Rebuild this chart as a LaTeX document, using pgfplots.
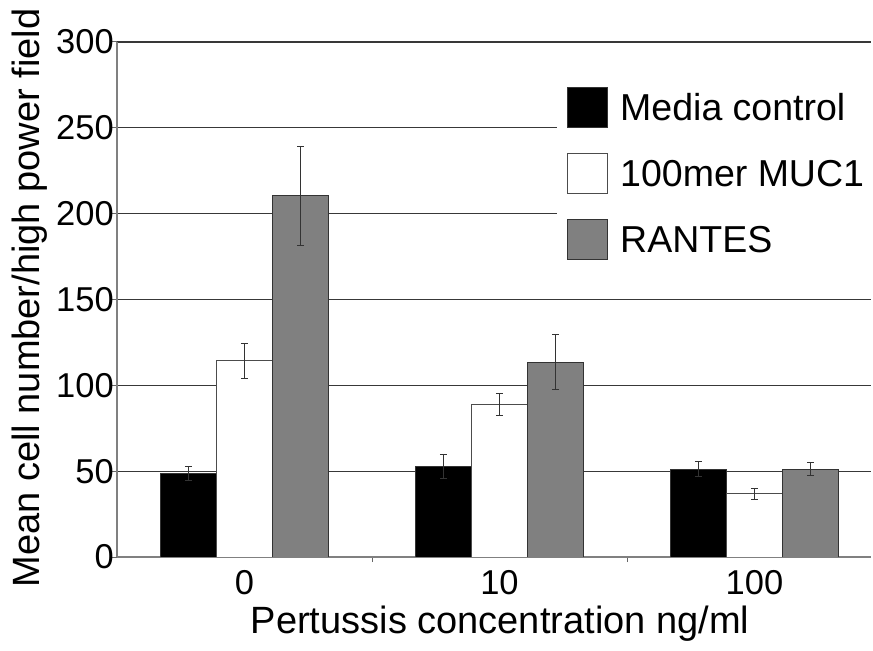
\documentclass[border=0pt]{standalone}
\usepackage{fontspec}
\setmainfont{Liberation Sans}
\usepackage{pgfplots}
\pgfplotsset{compat=1.18}
\definecolor{barGray}{gray}{0.5}
\begin{document}
\begin{tikzpicture}
\useasboundingbox (0,0) rectangle (873bp,651bp);
\begin{axis}[
  at={(117bp,94bp)}, anchor=south west,
  scale only axis, width=754bp, height=515bp,
  ybar=0pt, bar width=0.22,
  xmin=-0.5, xmax=2.457, ymin=0, ymax=300,
  axis x line=bottom, axis y line=left,
  axis line style={-, draw=black!50, line width=1.2bp},
  xtick={0,1,2}, xticklabels={0,10,100},
  minor xtick={0.5,1.5,2.5},
  major x tick style={draw=none},
  minor x tick style={draw=black!60, line width=0.8bp},
  minor tick length=5bp,
  ytick={0,50,...,300},
  y tick style={draw=black!60, line width=1bp},
  major tick length=5bp,
  tick align=outside,
  ymajorgrids, major grid style={draw=black!78, line width=1.2bp},
  /pgf/number format/assume math mode=true,
  ticklabel style={font=\fontsize{34.5bp}{40bp}\selectfont},
  xticklabel style={inner sep=0pt, anchor=north, yshift=-8bp},
  yticklabel style={inner sep=0pt, anchor=east, xshift=2bp},
  xlabel={Pertussis concentration ng/ml},
  xlabel style={at={(axis description cs:0.508,-0.1495)}, anchor=base, font=\fontsize{38bp}{44bp}\selectfont},
  ylabel={Mean cell number/high power field},
  ylabel style={at={(axis description cs:-0.1154,0.503)}, anchor=center, font=\fontsize{38bp}{44bp}\selectfont},
  legend style={at={(axis description cs:0.5836,0.932)}, anchor=north west,
    draw=none, fill=white, inner sep=10bp,
    font=\fontsize{37.5bp}{40bp}\selectfont,
    row sep=25bp, column sep=12bp, nodes={inner sep=0pt}},
  legend cell align=left,
  legend image code/.code={\draw[#1] (0bp,-20bp) rectangle (40bp,20bp);},
  error bars/error bar style={draw=black!80, line width=1bp},
  error bars/error mark options={rotate=90, mark size=3.5bp, line width=1bp, draw=black!80},
]
% Media control
\addplot[fill=black, draw=black!80, line width=1bp,
  error bars/.cd, y dir=both, y explicit]
  coordinates {(0,48.7) +- (0,4) (1,52.6) +- (0,7) (2,51.2) +- (0,4.3)};
\addlegendentry{Media control}
% 100mer MUC1
\addplot[fill=white, draw=black!70, line width=1bp,
  error bars/.cd, y dir=both, y explicit]
  coordinates {(0,114.2) +- (0,10) (1,88.9) +- (0,6.3) (2,36.7) +- (0,3)};
\addlegendentry{100mer MUC1}
% RANTES
\addplot[fill=barGray, draw=black!80, line width=1bp,
  error bars/.cd, y dir=both, y explicit]
  coordinates {(0,210.4) +- (0,29) (1,113.4) +- (0,16) (2,51.2) +- (0,4)};
\addlegendentry{RANTES}
\end{axis}
\end{tikzpicture}
\end{document}
